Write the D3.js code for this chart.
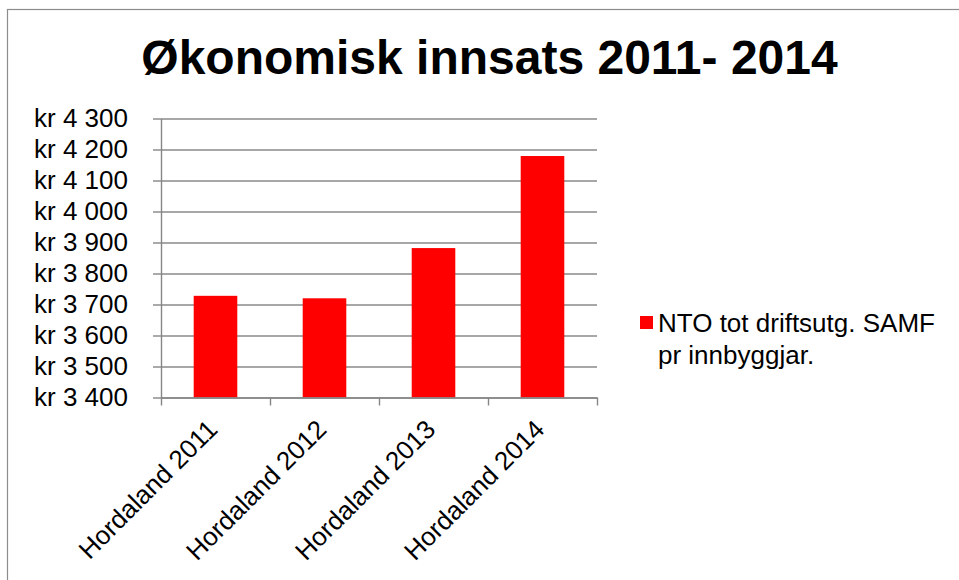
<!DOCTYPE html>
<html>
<head>
<meta charset="utf-8">
<script src="https://cdn.jsdelivr.net/npm/d3@7"></script>
<style>
  html, body { margin: 0; padding: 0; background: #fff; }
  text { font-family: "Liberation Sans", Arial, sans-serif; fill: #000; }
</style>
</head>
<body>
<div id="graph"></div>
<script>
// data
const categories = ["Hordaland 2011", "Hordaland 2012", "Hordaland 2013", "Hordaland 2014"];
const values = [3728, 3720, 3882, 4179];
const yTicks = [3400, 3500, 3600, 3700, 3800, 3900, 4000, 4100, 4200, 4300];
const seriesName = ["NTO tot driftsutg. SAMF", "pr innbyggjar."];
const title = "Økonomisk innsats 2011- 2014";

const width = 959, height = 580;
const plotLeft = 161, plotRight = 597, plotTop = 118.5, plotBottom = 397.5;

const locale = d3.formatLocale({decimal: ",", thousands: " ", grouping: [3], currency: ["kr ", ""]});
const fmt = locale.format("$,.0f");

const svg = d3.select("#graph").append("svg")
    .attr("width", width).attr("height", height);

// outer chart frame
svg.append("rect")
    .attr("x", 7.5).attr("y", 9.5)
    .attr("width", 960).attr("height", 600)
    .attr("fill", "none").attr("stroke", "#8c8c8c").attr("stroke-width", 1.2);

svg.append("text")
    .attr("x", 489.5).attr("y", 74)
    .attr("text-anchor", "middle")
    .style("font-size", "48px").style("font-weight", "bold")
    .text(title);

const x = d3.scaleBand().domain(categories).range([plotLeft, plotRight])
    .paddingInner(0.6).paddingOuter(0.3);
const y = d3.scaleLinear().domain([3400, 4300]).range([plotBottom, plotTop]);

// gridlines
svg.append("g")
    .attr("transform", `translate(${plotLeft},0)`)
    .call(d3.axisLeft(y).tickValues(yTicks).tickSize(-(plotRight - plotLeft)).tickFormat(""))
    .call(g => g.select(".domain").remove())
    .call(g => g.selectAll("line").attr("stroke", "#8a8a8a").attr("stroke-width", 1.4));

// bars
svg.append("g").selectAll("rect").data(values).enter().append("rect")
    .attr("x", (d, i) => x(categories[i]))
    .attr("y", d => y(d))
    .attr("width", x.bandwidth())
    .attr("height", d => y(3400) - y(d))
    .attr("fill", "#ff0000");

// y axis
const yAxis = svg.append("g")
    .attr("transform", `translate(${plotLeft},0)`)
    .call(d3.axisLeft(y).tickValues(yTicks).tickSize(8).tickSizeOuter(0).tickPadding(25).tickFormat(fmt));
yAxis.selectAll("line, path").attr("stroke", "#868686").attr("stroke-width", 1.4);
yAxis.attr("font-family", null).attr("font-size", null);
yAxis.selectAll("text").style("font-size", "26px").attr("fill", "#000");

// x axis with ticks on category boundaries
const xb = d3.scaleLinear().domain([0, categories.length]).range([plotLeft, plotRight]);
const xAxis = svg.append("g")
    .attr("transform", `translate(0,${plotBottom})`)
    .call(d3.axisBottom(xb).ticks(categories.length).tickSize(8).tickSizeOuter(0).tickFormat(""));
xAxis.selectAll("line, path").attr("stroke", "#868686").attr("stroke-width", 1.4);

// rotated category labels
svg.append("g").selectAll("text").data(categories).enter().append("text")
    .attr("transform", d => `translate(${x(d) + x.bandwidth() / 2 - 3},${plotBottom + 27}) rotate(-45)`)
    .attr("text-anchor", "end")
    .attr("dy", "0.35em")
    .style("font-size", "26px")
    .text(d => d);

// legend
const legend = svg.append("g");
legend.append("rect")
    .attr("x", 640).attr("y", 316).attr("width", 13).attr("height", 13)
    .attr("fill", "#ff0000");
legend.append("text")
    .attr("x", 658).attr("y", 332)
    .style("font-size", "26px")
    .selectAll("tspan").data(seriesName).enter().append("tspan")
    .attr("x", 658)
    .attr("dy", (d, i) => i ? 31.5 : 0)
    .text(d => d);
</script>
</body>
</html>
